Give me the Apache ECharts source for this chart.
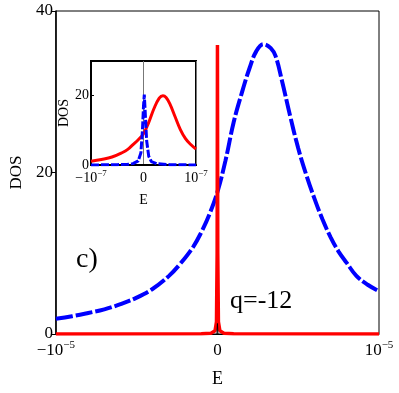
<!DOCTYPE html>
<html><head><meta charset="utf-8">
<script src="https://cdn.jsdelivr.net/npm/echarts@6/dist/echarts.min.js"></script>
<style>html,body{margin:0;padding:0;background:#fff}#c{width:399px;height:393px}</style>
</head><body><div id="c"></div>
<script>
// Main panel: E in units of 1e-6
var mainBlueE = [-10,-9,-8,-7,-6,-5,-4,-3,-2.3,-1.5,-1,-0.5,0,0.5,1,1.5,2,2.4,2.85,3.3,3.6,4,4.5,5,5.5,6,6.5,7,7.5,8,8.6,9.3,10];
var mainBlueV = [1.9,2.2,2.6,3.05,3.7,4.5,5.6,7.2,8.7,10.8,12.6,14.8,17.6,21.5,26.2,29.8,33.0,35.0,35.9,35.4,34.4,31.3,27.0,23.0,19.7,16.8,14.2,12.0,10.2,8.8,7.2,6.1,5.3];
var mainRedE = [-10,-1,-0.4,-0.15,-0.06,-0.02,0,0.02,0.06,0.15,0.4,1,10];
var mainRedV = [0,0.02,0.1,0.4,1.5,10,35.8,10,1.5,0.4,0.1,0.02,0];
var mainBlackE = [-0.03,0,0.03];
var mainBlackV = [0,1.3,0];
// Inset: E in units of 1e-8
var insetRedE = [-10,-8,-6,-4,-3,-2,-1,0,1,2,3,3.7,4.3,5,6,7,8,9,10];
var insetRedV = [1.1,1.6,2.3,3.6,4.5,5.9,7.3,9.0,12.3,16.3,19.3,20.0,19.5,17.7,14.0,10.3,7.6,5.9,4.6];
var insetBlueE = [-10,-5,-3,-2,-1,-0.5,-0.2,0,0.15,0.3,0.6,1,1.5,2.5,5,10];
var insetBlueV = [0,0.1,0.2,0.4,1.2,3.5,10,17,20.3,16,7,2.5,1.0,0.4,0.1,0];
var mainYTicks = [0,20,40];
var insetYTicks = [0,20];

function pairs(xs, ys){ return xs.map(function(x,i){ return [x, ys[i]]; }); }
var serif = 'Liberation Serif';
function xFmt(exp){
  return function(v){
    if (v === 0) return '{a|0}';
    if (v < 0) return '{a|\u221210}{s|\u2212' + exp + '}';
    return '{a|10}{s|\u2212' + exp + '}';
  };
}
var chart = echarts.init(document.getElementById('c'));
chart.setOption({
  animation: false,
  backgroundColor: '#fff',
  textStyle: {fontFamily: serif},
  grid: [
    {left: 50, top: 11, width: 329, height: 331, show: true, borderColor: '#000', borderWidth: 1, backgroundColor: 'transparent'},
    {left: 91, top: 61, width: 105, height: 104, show: true, borderColor: '#000', borderWidth: 2, backgroundColor: '#fff', z: 5}
  ],
  xAxis: [
    {gridIndex: 0, type: 'value', min: -10, max: 10, interval: 10,
     axisLine: {onZero: false, lineStyle: {color: '#000', width: 1}}, axisTick: {show: false}, splitLine: {show: false},
     axisLabel: {formatter: xFmt(5), margin: 6, color: '#000', fontFamily: serif,
       rich: {a: {fontSize: 17, fontFamily: serif, color: '#000', lineHeight: 22}, s: {fontSize: 11, fontFamily: serif, color: '#000', verticalAlign: 'top', lineHeight: 22, padding: [0,0,10,0]}}},
     name: 'E', nameLocation: 'middle', nameGap: 36, nameTextStyle: {fontSize: 18, fontFamily: serif, color: '#000'}},
    {gridIndex: 1, type: 'value', min: -10, max: 10, interval: 10, z: 6,
     axisLine: {onZero: false, lineStyle: {color: '#000', width: 2}}, axisTick: {show: false},
     splitLine: {show: true, lineStyle: {color: '#777', width: 1}},
     axisLabel: {formatter: xFmt(7), margin: 4, color: '#000', fontFamily: serif,
       rich: {a: {fontSize: 14, fontFamily: serif, color: '#000', lineHeight: 18}, s: {fontSize: 9, fontFamily: serif, color: '#000', verticalAlign: 'top', lineHeight: 18, padding: [0,0,8,0]}}},
     name: 'E', nameLocation: 'middle', nameGap: 28, nameTextStyle: {fontSize: 14, fontFamily: serif, color: '#000'}}
  ],
  yAxis: [
    {gridIndex: 0, type: 'value', min: 0, max: 40, interval: 20,
     axisLine: {onZero: false, lineStyle: {color: '#000', width: 1.5}}, axisTick: {show: true, length: 5, lineStyle: {color: '#000'}}, splitLine: {show: false},
     axisLabel: {fontSize: 17, fontFamily: serif, color: '#000', margin: 3},
     name: 'DOS', nameLocation: 'middle', nameGap: 24, nameTextStyle: {fontSize: 17, fontFamily: serif, color: '#000'}},
    {gridIndex: 1, type: 'value', min: 0, max: 30, interval: 20, z: 6,
     axisLine: {onZero: false, lineStyle: {color: '#000', width: 2}}, axisTick: {show: true, length: 3, inside: true, lineStyle: {color: '#000'}}, splitLine: {show: false},
     axisLabel: {fontSize: 14, fontFamily: serif, color: '#000', margin: 2, showMaxLabel: false,
       formatter: function(v){ return insetYTicks.indexOf(v) >= 0 ? String(v) : ''; }},
     name: 'DOS', nameLocation: 'middle', nameGap: 20, nameTextStyle: {fontSize: 14, fontFamily: serif, color: '#000'}}
  ],
  series: [
    {type: 'line', xAxisIndex: 0, yAxisIndex: 0, data: pairs(mainBlueE, mainBlueV), smooth: 0.4, showSymbol: false,
     lineStyle: {color: '#0000ff', width: 4, type: [17, 3]}, z: 2},
    {type: 'line', xAxisIndex: 0, yAxisIndex: 0, data: pairs(mainRedE, mainRedV), showSymbol: false,
     lineStyle: {color: '#ff0000', width: 3.5, join: 'bevel'}, z: 3},
    {type: 'line', xAxisIndex: 0, yAxisIndex: 0, data: pairs(mainBlackE, mainBlackV), showSymbol: false,
     lineStyle: {color: '#000', width: 1}, z: 4},
    {type: 'line', xAxisIndex: 1, yAxisIndex: 1, data: pairs(insetRedE, insetRedV), smooth: 0.4, showSymbol: false,
     lineStyle: {color: '#ff0000', width: 3}, z: 7},
    {type: 'line', xAxisIndex: 1, yAxisIndex: 1, data: pairs(insetBlueE, insetBlueV), showSymbol: false,
     lineStyle: {color: '#0000ff', width: 3, type: [8, 2], join: 'bevel'}, z: 8}
  ],
  graphic: [
    {type: 'text', left: 76, top: 246, style: {text: 'c)', font: '28px "Liberation Serif"', fill: '#000'}, z: 10},
    {type: 'text', left: 230, top: 288, style: {text: 'q=-12', font: '26px "Liberation Serif"', fill: '#000'}, z: 10}
  ]
});
</script></body></html>
